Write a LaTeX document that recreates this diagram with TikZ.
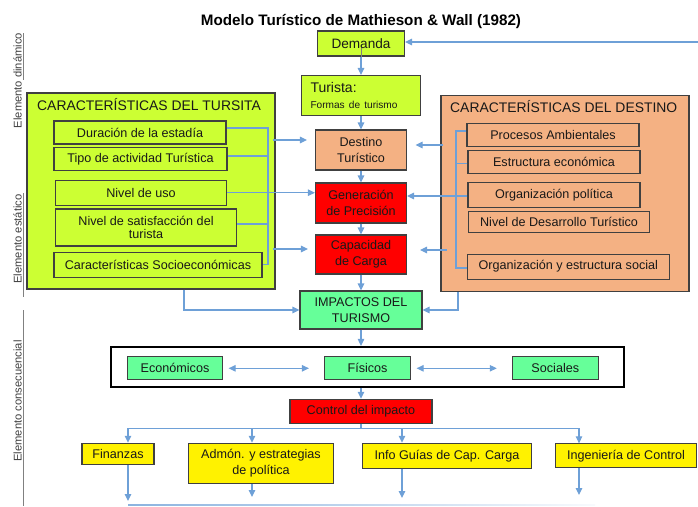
\documentclass[tikz,border=0pt]{standalone}
\usepackage{fontspec}
\setmainfont{Liberation Sans}
\usetikzlibrary{arrows.meta}

\definecolor{lima}{RGB}{204,255,51}
\definecolor{salmon}{RGB}{244,177,131}
\definecolor{menta}{RGB}{102,255,153}
\definecolor{azul}{RGB}{110,160,215}
\definecolor{borde}{RGB}{64,64,64}

\tikzset{
  caja/.style={draw=borde, line width=1.1pt, align=center, inner sep=2pt,
    font=\fontsize{12.6}{15.6}\selectfont, text=black!90},
  marco/.style={draw=borde, line width=1.1pt},
  titcaja/.style={anchor=base west, inner sep=0pt, font=\fontsize{13.9}{16}\selectfont, text=black!90},
  linea/.style={draw=azul, line width=1.1pt},
  flecha/.style={linea, -{Triangle[length=7pt,width=6.5pt]}},
  doble/.style={linea, {Triangle[length=7pt,width=6.5pt]}-{Triangle[length=7pt,width=6.5pt]}},
  lateral/.style={rotate=90, inner sep=0pt, text=black!75, font=\fontsize{11.2}{13}\selectfont},
  regla/.style={draw=black!50, line width=1.5pt}
}

\begin{document}
\begin{tikzpicture}[x=1pt,y=-1pt]
\useasboundingbox (0,0) rectangle (698,506);

%% Titulo
\node[anchor=base, inner sep=0pt, font=\bfseries\fontsize{15.2}{18}\selectfont] (titulo) at (361,25) {Modelo Turístico de Mathieson \& Wall (1982)};

%% Elementos (lado izquierdo)
\node[lateral] (edin) at (17.5,80.5) {Elemento dinámico};
\node[lateral] (eest) at (17.5,239) {Elemento estático};
\node[lateral] (econ) at (17.5,401) {Elemento consecuencial};
\draw[regla] (23.3,33) -- (23.3,80);
\draw[regla] (23.3,193) -- (23.3,297);
\draw[regla] (23.3,310) -- (23.3,506);

%% Caracteristicas del turista
\node[marco, fill=lima, minimum width=248pt, minimum height=196pt] (izq) at (151,191) {};
\node[titcaja] (izqtit) at (37,110) {CARACTERÍSTICAS DEL TURSITA};
\node[caja, fill=lima, minimum width=172pt, minimum height=23pt] (dur) at (140,132.5) {Duración de la estadía};
\node[caja, fill=lima, minimum width=173pt, minimum height=23pt] (tip) at (140.5,159.2) {Tipo de actividad Turística};
\node[caja, fill=lima, minimum width=171pt, minimum height=25pt] (uso) at (141,192.7) {Nivel de uso};
\node[caja, fill=lima, minimum width=181pt, minimum height=37pt] (sat) at (146,227.5) {Nivel de satisfacción del\\[-2pt]turista};
\node[caja, fill=lima, minimum width=208pt, minimum height=25pt] (soc) at (158,264.6) {Características Socioeconómicas};

%% Caracteristicas del destino
\node[marco, fill=salmon, minimum width=248pt, minimum height=196pt] (der) at (565,193.3) {};
\node[titcaja] (dertit) at (450,112.7) {CARACTERÍSTICAS DEL DESTINO};
\node[caja, fill=salmon, minimum width=172pt, minimum height=23pt] (amb) at (553,134.6) {Procesos Ambientales};
\node[caja, fill=salmon, minimum width=172pt, minimum height=23pt] (estr) at (554,161.6) {Estructura económica};
\node[caja, fill=salmon, minimum width=172pt, minimum height=25pt] (pol) at (554,194.8) {Organización política};
\node[caja, fill=salmon, minimum width=181pt, minimum height=21pt] (niv) at (559,222) {Nivel de Desarrollo Turístico};
\node[caja, fill=salmon, minimum width=202pt, minimum height=25pt] (orgsoc) at (568.3,266.6) {Organización y estructura social};

%% Columna central
\node[caja, fill=lima, minimum width=87pt, minimum height=25pt, font=\fontsize{13.6}{16}\selectfont] (dem) at (361,43.5) {Demanda};
\node[caja, fill=lima, align=left, text width=101pt, inner xsep=9pt, minimum height=40pt] (tur) at (361,95.5) {\fontsize{14}{16}\selectfont Turista:\\\fontsize{10.1}{14}\selectfont Formas de turismo};
\node[caja, fill=salmon, minimum width=91pt, minimum height=40pt] (des) at (361,150) {Destino\\Turístico};
\node[caja, fill=red, minimum width=91pt, minimum height=40pt] (gen) at (361,203) {Generación\\de Precisión};
\node[caja, fill=red, minimum width=91pt, minimum height=39pt] (cap) at (361,254.5) {Capacidad\\de Carga};
\node[caja, fill=menta, minimum width=122pt, minimum height=38pt] (imp) at (361,310) {IMPACTOS DEL\\TURISMO};

%% Impactos
\node[draw=black, line width=2pt, minimum width=513pt, minimum height=40pt] (tipos) at (367.5,366.9) {};
\node[caja, fill=menta, minimum width=95pt, minimum height=23pt] (ecos) at (175,368.3) {Económicos};
\node[caja, fill=menta, minimum width=86pt, minimum height=23pt] (fis) at (367.5,368.3) {Físicos};
\node[caja, fill=menta, minimum width=86pt, minimum height=23pt] (socl) at (555.3,368.3) {Sociales};

%% Control
\node[caja, fill=red, minimum width=142pt, minimum height=24pt] (ctl) at (361,411.3) {Control del impacto};
\node[caja, fill=yellow, minimum width=72pt, minimum height=21pt] (fin) at (118,453.8) {Finanzas};
\node[caja, fill=yellow, minimum width=145pt, minimum height=40pt] (adm) at (261,463.3) {Admón. y estrategias\\de política};
\node[caja, fill=yellow, minimum width=169pt, minimum height=25pt] (inf) at (447,455.8) {Info Guías de Cap. Carga};
\node[caja, fill=yellow, minimum width=141pt, minimum height=24pt] (ing) at (626,455.9) {Ingeniería de Control};

%% Flujo central
\coordinate (retro) at (698,42);
\draw[flecha] (retro) -- (retro -| dem.east);
\draw[regla, line width=1pt] (dem.south) -- ++(0,-9);
\draw[flecha] (dem) -- (tur);
\draw[flecha] (tur) -- (des);
\draw[flecha] (des) -- (gen);
\draw[flecha] (gen) -- (cap);
\draw[flecha] (cap) -- (imp);
\draw[flecha] (imp.south) -- (imp.south |- tipos.north);
\draw[flecha] (tipos.south -| ctl.north) -- (ctl.north);

%% Turista -> centro
\coordinate (llave) at (268,0);
\draw[linea] (dur.east |- 0,128) -| (llave |- soc.east) -- (soc.east);
\draw[linea] (tip.east |- 0,156) -- (llave |- 0,156);
\draw[linea] (sat.east |- 0,224) -- (llave |- 0,224);
\coordinate (i1) at (273,140);
\coordinate (i2) at (273,249);
\draw[flecha, shorten >=8pt] (i1) -- (i1 -| des.west);
\draw[flecha] (uso.east) -- (uso.east -| gen.west);
\draw[flecha, shorten >=7pt] (i2) -- (i2 -| cap.west);
\draw[flecha] (izq.south -| 184,0) |- (imp.west);

%% Destino -> centro
\coordinate (llaved) at (456,0);
\draw[linea] (amb.west |- 0,131) -| (llaved |- 0,268) -- (orgsoc.west |- 0,268);
\draw[linea] (estr.west |- 0,163.3) -- (llaved |- 0,163.3);
\coordinate (d1) at (443,145);
\coordinate (d2) at (447,250);
\draw[flecha, shorten >=8.5pt] (d1) -- (d1 -| des.east);
\draw[flecha] (pol.west |- 0,196) -- (gen.east |- 0,196);
\draw[flecha, shorten >=13pt] (d2) -- (d2 -| cap.east);
\draw[flecha] (der.south -| 458,0) |- (imp.east);

%% Tipos de impacto
\draw[doble, shorten <=5.5pt, shorten >=15pt] (ecos.east) -- (fis.west);
\draw[doble, shorten <=5.5pt, shorten >=15pt] (fis.east) -- (socl.west);

%% Control -> medidas
\coordinate (bus) at (0,428.3);
\draw[linea] (ctl.south) -- (ctl.south |- bus);
\draw[linea] (128,0 |- bus) -- (579,0 |- bus);
\foreach \x/\n in {128/fin,252/adm,402/inf,579/ing}{
  \coordinate (b\n) at (\x,428.3);
  \draw[flecha] (b\n) -- (b\n |- \n.north);
}
\foreach \x/\n/\y in {128/fin/501,252/adm/497,402/inf/498,579/ing/495}
  \draw[flecha] (\x,0 |- \n.south) -- (\x,\y);
\shade[left color=azul!80, right color=azul!5] (128,504.4) rectangle (595,505.6);

\end{tikzpicture}
\end{document}
